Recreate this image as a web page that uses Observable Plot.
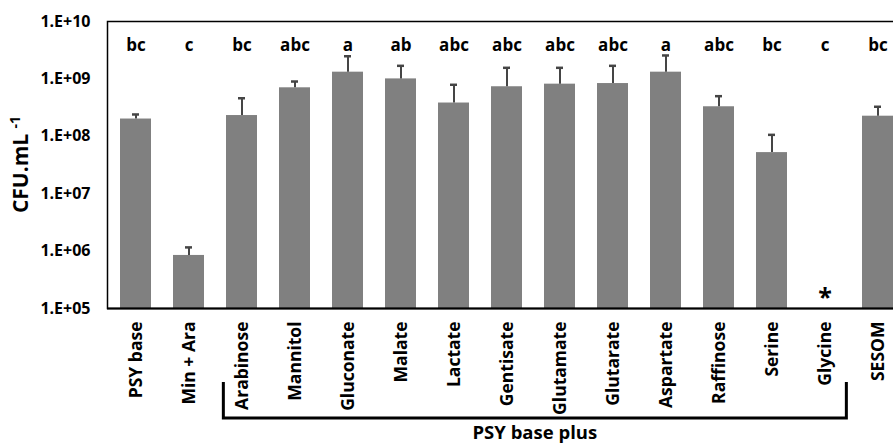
<!DOCTYPE html>
<html><head><meta charset="utf-8">
<script src="https://cdn.jsdelivr.net/npm/d3@7"></script>
<script src="https://cdn.jsdelivr.net/npm/@observablehq/plot@0.6"></script>
<style>
html,body{margin:0;padding:0;background:#fff;overflow:hidden;}
#chart svg{display:block;}
</style></head><body><div id="chart"></div>
<script>
const categories = ["PSY base","Min + Ara","Arabinose","Mannitol","Gluconate","Malate","Lactate","Gentisate","Glutamate","Glutarate","Aspartate","Raffinose","Serine","Glycine","SESOM"];
const means = [2.0e8, 8.4e5, 2.3e8, 7.0e8, 1.31e9, 1.0e9, 3.8e8, 7.3e8, 8.1e8, 8.3e8, 1.31e9, 3.27e8, 5.2e7, null, 2.24e8];
const upper = [2.4e8, 1.16e6, 4.6e8, 9.0e8, 2.48e9, 1.69e9, 7.9e8, 1.56e9, 1.56e9, 1.69e9, 2.56e9, 5.0e8, 1.06e8, null, 3.27e8];
const letters = ["bc","c","bc","abc","a","ab","abc","abc","abc","abc","a","abc","bc","c","bc"];
const markers = ["","","","","","","","","","","","","","*",""];
const yTicks = [1e5,1e6,1e7,1e8,1e9,1e10];
const groupLabel = "PSY base plus";
const groupFirst = "Arabinose", groupLast = "Glycine";
const yLabel = "CFU.mL", yLabelSup = "-1";

const data = categories.map((c,i)=>({cat:c, mean:means[i], upper:upper[i], letter:letters[i], marker:markers[i]}));
const bars = data.filter(d=>d.mean!=null);
const font = "'Open Sans', sans-serif";

const chart = Plot.plot({
  width: 893, height: 444,
  marginLeft: 107, marginRight: -12, marginTop: 21, marginBottom: 136,
  style: {fontFamily: font, overflow: "hidden", background: "#fff", color: "#000"},
  x: {domain: categories, paddingInner: 0.42, paddingOuter: 0.21, label: null},
  y: {type: "log", domain: [1e5, 1e10], label: null},
  marks: [
    Plot.barY(bars, {x: "cat", y1: 1e5, y2: "mean", fill: "#808080"}),
    Plot.ruleX(bars, {x: "cat", y1: "mean", y2: "upper", stroke: "#454545", strokeWidth: 2}),
    Plot.tickY(bars, {x: "cat", y: "upper", stroke: "#454545", strokeWidth: 2.5, insetLeft: 12, insetRight: 12}),
    Plot.text(data, {x: "cat", text: "letter", frameAnchor: "top", dy: 17, fontSize: 17, fontWeight: "bold", fill: "#000"}),
    Plot.text(data.filter(d=>d.marker), {x: "cat", text: "marker", frameAnchor: "bottom", dy: -11, fontSize: 25, fontWeight: "bold", fill: "#000", lineAnchor: "middle"}),
    Plot.frame({stroke: "#000", strokeWidth: 1.5}),
    Plot.ruleY([1e5], {stroke: "#000", strokeWidth: 2}),
    Plot.axisY({ticks: yTicks, tickFormat: d => "1.E+" + String(Math.round(Math.log10(d))).padStart(2, "0"), tickSize: 0, tickPadding: 17, fontSize: 16, fontWeight: "bold", label: null}),
    Plot.axisX({tickRotate: -90, tickSize: 0, tickPadding: 13, fontSize: 17.5, fontWeight: "bold", label: null})
  ]
});
document.getElementById("chart").appendChild(chart);

// annotations positioned from the chart's own scales
const xs = chart.scale("x"), ys = chart.scale("y");
const svg = d3.select(chart);
const bw = xs.bandwidth, step = xs.step;
const left = xs.apply(groupFirst) - 0.05 * step;
const right = xs.apply(groupLast) + bw + 0.12 * step;
const base = ys.apply(1e5);
const yTop = base + 74, yBot = base + 110;
svg.append("path")
  .attr("d", `M${left},${yTop}V${yBot}H${right}V${yTop}`)
  .attr("fill", "none").attr("stroke", "#000").attr("stroke-width", 3);
svg.append("text")
  .attr("x", (left + right) / 2).attr("y", base + 130.5)
  .attr("text-anchor", "middle").attr("font-family", font)
  .attr("font-size", 18.5).attr("font-weight", "bold").attr("fill", "#000")
  .text(groupLabel);
const yMid = (ys.apply(1e5) + ys.apply(1e10)) / 2;
const lab = svg.append("text")
  .attr("transform", `translate(28,${yMid}) rotate(-90)`)
  .attr("text-anchor", "middle").attr("font-family", font)
  .attr("font-size", 21).attr("font-weight", "bold").attr("fill", "#000");
lab.append("tspan").text(yLabel + " ");
lab.append("tspan").attr("dy", -8).attr("font-size", 14).text(yLabelSup);
</script></body></html>
